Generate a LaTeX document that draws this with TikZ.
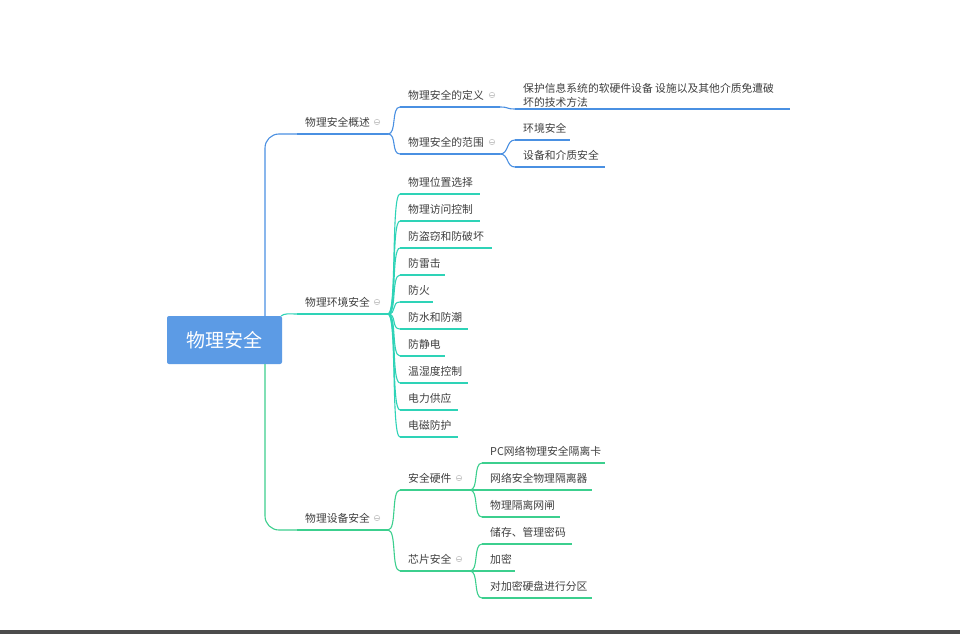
\documentclass[tikz,border=0pt]{standalone}
\usepackage{fontspec}
\setmainfont{Noto Sans CJK SC}
\begin{document}
\begin{tikzpicture}[x=1pt,y=-1pt,
  lbl/.style={anchor=base west,inner sep=0pt,font=\fontsize{10.8}{12}\selectfont,text=black!75},
  ln/.style={line width=1.1pt},
  ico/.style={circle,draw=black!22,fill=white,inner sep=0pt,minimum size=5.5pt,line width=0.6pt}]
\definecolor{cb}{HTML}{4A90E2}
\definecolor{ct}{HTML}{2ED3B7}
\definecolor{cg}{HTML}{3CCF8E}
\useasboundingbox (0,0) rectangle (960,634);
\fill[white] (0,0) rectangle (960,634);
\fill[black!70] (0,630) rectangle (960,634);
\newcommand{\mmbr}[6]{%
  \node[lbl] (#1) at (#2+8,#4) {#5};
  \coordinate (#1-s) at (#2,#4+8);
  \coordinate (#1-e) at (#3,#4+8);
  \draw[ln,#6] (#1-s) -- (#1-e);}
\newcommand{\mmico}[3]{\node[ico] (#1) at (#2,#3) {}; \draw[black!22,line width=0.6pt] (#2-1.6,#3) -- (#2+1.6,#3);}
\newcommand{\mmcon}[3]{\draw[ln,#3] (#1-e) .. controls +(9,0) and +(-9,0) .. (#2-s);}
% root
\node[fill=cb!90!white,rounded corners=2pt,minimum width=115pt,minimum height=48pt,text=white,font=\fontsize{19}{22}\selectfont,inner sep=0pt] (root) at (224.5,340) {物理安全};
\coordinate (rt) at (265,316);
\coordinate (rb) at (265,364);
\coordinate (rr) at (281,316);
% level 1
\mmbr{a}{297}{388}{126}{物理安全概述}{cb}
\mmbr{b}{297}{388}{306}{物理环境安全}{ct}
\mmbr{c}{297}{388}{522}{物理设备安全}{cg}
\mmico{ai}{377}{122}\mmico{bi}{377}{302}\mmico{ci}{377}{518}
\draw[ln,cb,rounded corners=14pt] (rt) |- (a-s);
\draw[ln,cg,rounded corners=14pt] (rb) |- (c-s);
\draw[ln,ct] (rr) .. controls +(4,-3) and +(-8,0) .. (b-s);
% level 2 of a
\mmbr{a1}{400}{500}{99}{物理安全的定义}{cb}
\mmbr{a2}{400}{500}{146}{物理安全的范围}{cb}
\mmico{a1i}{492}{95}\mmico{a2i}{492}{142}
\mmcon{a}{a1}{cb}\mmcon{a}{a2}{cb}
\node[lbl] (a11) at (523,92) {保护信息系统的软硬件设备 设施以及其他介质免遭破};
\node[lbl] (a11b) at (523,106) {坏的技术方法};
\coordinate (a11-s) at (515,109);\coordinate (a11-e) at (790,109);
\draw[ln,cb] (a11-s) -- (a11-e);
\mmbr{a21}{515}{570}{132}{环境安全}{cb}
\mmbr{a22}{515}{605}{159}{设备和介质安全}{cb}
\mmcon{a1}{a11}{cb}\mmcon{a2}{a21}{cb}\mmcon{a2}{a22}{cb}
% level 2 of b
\mmbr{b1}{400}{480}{186}{物理位置选择}{ct}
\mmbr{b2}{400}{480}{213}{物理访问控制}{ct}
\mmbr{b3}{400}{492}{240}{防盗窃和防破坏}{ct}
\mmbr{b4}{400}{445}{267}{防雷击}{ct}
\mmbr{b5}{400}{433}{294}{防火}{ct}
\mmbr{b6}{400}{468}{321}{防水和防潮}{ct}
\mmbr{b7}{400}{445}{348}{防静电}{ct}
\mmbr{b8}{400}{468}{375}{温湿度控制}{ct}
\mmbr{b9}{400}{458}{402}{电力供应}{ct}
\mmbr{b10}{400}{458}{429}{电磁防护}{ct}
\foreach \k in {b1,b2,b3,b4,b5,b6,b7,b8,b9,b10} {\mmcon{b}{\k}{ct}}
% level 2 of c
\mmbr{c1}{400}{470}{482}{安全硬件}{cg}
\mmbr{c2}{400}{470}{563}{芯片安全}{cg}
\mmico{c1i}{459}{478}\mmico{c2i}{459}{559}
\mmcon{c}{c1}{cg}\mmcon{c}{c2}{cg}
\mmbr{c11}{482}{605}{455}{PC网络物理安全隔离卡}{cg}
\mmbr{c12}{482}{592}{482}{网络安全物理隔离器}{cg}
\mmbr{c13}{482}{560}{509}{物理隔离网闸}{cg}
\mmbr{c21}{482}{572}{536}{储存、管理密码}{cg}
\mmbr{c22}{482}{515}{563}{加密}{cg}
\mmbr{c23}{482}{592}{590}{对加密硬盘进行分区}{cg}
\foreach \k in {c11,c12,c13} {\mmcon{c1}{\k}{cg}}
\foreach \k in {c21,c22,c23} {\mmcon{c2}{\k}{cg}}
\end{tikzpicture}
\end{document}
